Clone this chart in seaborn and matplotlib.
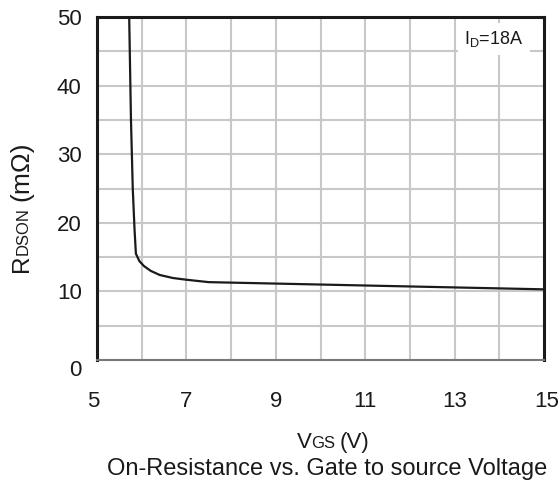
import matplotlib
matplotlib.use("Agg")
import matplotlib.pyplot as plt
import matplotlib.transforms as mtransforms
import seaborn as sns
import pandas as pd
from matplotlib.ticker import MultipleLocator

vgs = [5.72, 5.76, 5.80, 5.84, 5.87, 5.95, 6.05, 6.2, 6.4, 6.7, 7.0, 7.5, 10.0, 15.0]
rdson = [50.0, 35.0, 25.0, 19.0, 15.5, 14.4, 13.7, 13.0, 12.4, 11.95, 11.7, 11.35, 11.0, 10.3]
x_ticks = [5, 7, 9, 11, 13, 15]
y_ticks = [0, 10, 20, 30, 40, 50]

df = pd.DataFrame({"VGS": vgs, "RDSON": rdson})

sns.set_theme(style="white")
plt.rcParams['font.family'] = ['Liberation Sans', 'DejaVu Sans']
plt.rcParams['mathtext.fontset'] = 'custom'
plt.rcParams['mathtext.rm'] = 'Liberation Sans'
plt.rcParams['mathtext.it'] = 'Liberation Sans'

TXT = "#1a1a1a"
W, H = 560, 490
fig = plt.figure(figsize=(5.6, 4.9), dpi=100)
ax = fig.add_axes([97 / W, 1 - 360 / H, 447 / W, 343 / H])

sns.lineplot(data=df, x="VGS", y="RDSON", ax=ax, color=TXT, linewidth=1.6, sort=False)

ax.set_xlim(5, 15)
ax.set_ylim(0, 50)
ax.set_xticks(x_ticks)
ax.set_yticks(y_ticks)
ax.xaxis.set_minor_locator(MultipleLocator(0.5))
ax.yaxis.set_minor_locator(MultipleLocator(5))
ax.grid(False)
for xv in range(6, 15):
    ax.axvline(xv, color="#c8c8c8", linewidth=1.5, zorder=0)
for yv in range(5, 50, 5):
    ax.axhline(yv, color="#c8c8c8", linewidth=1.5, zorder=0)

ax.tick_params(axis='both', which='major', labelsize=16, colors=TXT,
               direction='in', length=0)
ax.tick_params(axis='x', which='major', pad=22)
ax.tick_params(axis='y', which='major', pad=11)
ax.tick_params(axis='x', which='minor', direction='in', length=3, color="#999999", width=1)
ax.tick_params(axis='y', which='minor', direction='in', length=3, color="#333333", width=1)

for s in ['left', 'top', 'right']:
    ax.spines[s].set_color(TXT)
    ax.spines[s].set_linewidth(2.2)
ax.spines['bottom'].set_color("#777777")
ax.spines['bottom'].set_linewidth(1.5)

ax.set_xlabel("")
ax.set_ylabel("")

# small offsets of a few tick labels as in reference
fig.canvas.draw()
ylabs = ax.get_yticklabels()
ylabs[0].set_transform(ylabs[0].get_transform() + mtransforms.ScaledTranslation(0, -8 / 100, fig.dpi_scale_trans))
xlabs = ax.get_xticklabels()
xlabs[0].set_transform(xlabs[0].get_transform() + mtransforms.ScaledTranslation(-4 / 100, 0, fig.dpi_scale_trans))
xlabs[-1].set_transform(xlabs[-1].get_transform() + mtransforms.ScaledTranslation(3 / 100, 0, fig.dpi_scale_trans))

renderer = fig.canvas.get_renderer()


def text_width(s, size):
    t = fig.text(0, 0, s, fontsize=size)
    w = t.get_window_extent(renderer).width
    t.remove()
    return w


def compound(pieces, x0, y0, rotation=0):
    """pieces: list of (text, size, gap_after_px); x0,y0 in pixels from top-left; baseline start."""
    pos = 0.0
    for s, size, gap in pieces:
        if rotation == 0:
            px, py = x0 + pos, y0
        else:
            px, py = x0, y0 - pos
        fig.text(px / W, 1 - py / H, s, fontsize=size, color=TXT, rotation=rotation,
                 rotation_mode='anchor', ha='left', va='baseline')
        pos += text_width(s, size) + gap


# x label: V_GS (V)
xpieces = [("V", 16, 0), ("GS", 12, 4), ("(V)", 16, 0)]
xw = sum(text_width(s, z) + g for s, z, g in xpieces)
compound(xpieces, 333 - xw / 2, 448)

# y label: R_DSON (mΩ)
ypieces = [("R", 17.5, 0), ("DSON", 12, 6), ("(mΩ)", 19, 0)]
compound(ypieces, 28, 272, rotation=90)

ax.text((494 - 97) / 447, (360 - 39) / 343, r"I$_{\rm D}$=18A", transform=ax.transAxes,
        ha='center', va='center', fontsize=13, color=TXT,
        bbox=dict(facecolor='white', edgecolor='none', boxstyle='square,pad=0.35'))

fig.text(327 / W, 1 - 469 / H, "On-Resistance vs. Gate to source Voltage", ha='center', va='center',
         fontsize=17, color=TXT)

fig.savefig("out.png", dpi=100)
